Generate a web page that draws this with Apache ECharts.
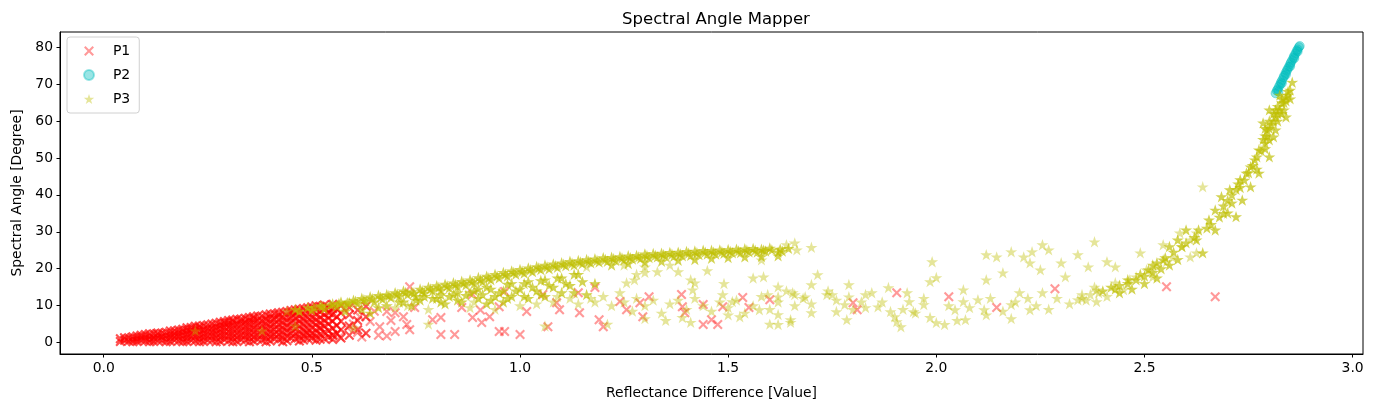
<!DOCTYPE html>
<html>
<head>
<meta charset="utf-8">
<title>Spectral Angle Mapper</title>
<script src="https://cdn.jsdelivr.net/npm/echarts@6/dist/echarts.min.js"></script>
<style>
  html, body { margin: 0; padding: 0; background: #fff; }
  #chart { width: 1378px; height: 412px; }
</style>
</head>
<body>
<div id="chart"></div>
<script>
// P1 : red crosses, dense wedge near the origin
const p1Wedge = [
  [0.04,0.3],[0.04,1.0],[0.06,0.4],[0.06,1.3],[0.08,0.3],[0.08,1.0],[0.08,1.8],
  [0.10,0.5],[0.10,1.4],[0.10,2.2],[0.12,0.3],[0.12,1.2],[0.12,2.4],
  [0.14,0.6],[0.14,1.6],[0.14,2.6],[0.16,0.3],[0.16,1.3],[0.16,2.3],[0.16,3.1],
  [0.18,0.5],[0.18,1.6],[0.18,2.6],[0.18,3.4],[0.20,0.3],[0.20,1.2],[0.20,2.3],[0.20,3.3],[0.20,4.0],
  [0.22,0.5],[0.22,1.6],[0.22,2.7],[0.22,3.7],[0.22,4.4],[0.24,0.3],[0.24,1.3],[0.24,2.4],[0.24,3.5],[0.24,4.6],
  [0.26,0.6],[0.26,1.7],[0.26,2.8],[0.26,3.9],[0.26,5.0],[0.28,0.3],[0.28,1.4],[0.28,2.5],[0.28,3.6],[0.28,4.7],[0.28,5.5],
  [0.30,0.5],[0.30,1.7],[0.30,2.9],[0.30,4.1],[0.30,5.2],[0.30,6.0],
  [0.32,0.3],[0.32,1.4],[0.32,2.6],[0.32,3.8],[0.32,5.0],[0.32,6.3],
  [0.34,0.6],[0.34,1.8],[0.34,3.0],[0.34,4.3],[0.34,5.5],[0.34,6.6],
  [0.36,0.4],[0.36,1.5],[0.36,2.8],[0.36,4.0],[0.36,5.3],[0.36,6.5],[0.36,7.0],
  [0.38,0.7],[0.38,1.9],[0.38,3.2],[0.38,4.5],[0.38,5.8],[0.38,7.2],
  [0.40,0.4],[0.40,1.6],[0.40,2.9],[0.40,4.2],[0.40,5.5],[0.40,6.8],[0.40,7.7],
  [0.42,0.8],[0.42,2.1],[0.42,3.4],[0.42,4.8],[0.42,6.1],[0.42,7.4],[0.42,8.1],
  [0.44,0.5],[0.44,1.8],[0.44,3.1],[0.44,4.5],[0.44,5.9],[0.44,7.2],[0.44,8.4],
  [0.46,1.0],[0.46,2.3],[0.46,3.7],[0.46,5.1],[0.46,6.5],[0.46,7.8],[0.46,8.9],
  [0.48,0.7],[0.48,2.0],[0.48,3.4],[0.48,4.9],[0.48,6.3],[0.48,7.7],[0.48,9.2],
  [0.50,1.2],[0.50,2.6],[0.50,4.1],[0.50,5.6],[0.50,7.0],[0.50,8.5],[0.50,9.6],
  [0.52,0.9],[0.52,2.3],[0.52,3.8],[0.52,5.3],[0.52,6.8],[0.52,8.3],[0.52,9.8],
  [0.54,1.5],[0.54,3.2],[0.54,5.0],[0.54,6.6],[0.54,8.1],[0.54,9.5],
  [0.56,2.5],[0.56,4.6],[0.56,7.0],[0.56,9.0],
  [0.05,0.6],[0.05,1.3],[0.07,0.2],[0.07,0.9],[0.07,1.6],[0.09,0.6],[0.09,1.4],[0.09,2.0],
  [0.11,0.2],[0.11,0.9],[0.11,1.7],[0.11,2.4],[0.13,0.5],[0.13,1.3],[0.13,2.1],[0.13,2.6],
  [0.15,0.2],[0.15,1.0],[0.15,1.9],[0.15,2.8],[0.17,0.6],[0.17,1.5],[0.17,2.4],[0.17,3.2],
  [0.19,0.2],[0.19,1.0],[0.19,2.0],[0.19,2.9],[0.19,3.6],[0.21,0.6],[0.21,1.6],[0.21,2.6],[0.21,3.5],[0.21,4.1],
  [0.23,0.2],[0.23,1.1],[0.23,2.1],[0.23,3.1],[0.23,4.0],[0.23,4.5],[0.25,0.7],[0.25,1.8],[0.25,2.9],[0.25,3.9],[0.25,4.8],
  [0.27,0.2],[0.27,1.2],[0.27,2.3],[0.27,3.3],[0.27,4.3],[0.27,5.2],[0.29,0.8],[0.29,2.0],[0.29,3.1],[0.29,4.2],[0.29,5.2],[0.29,5.7],
  [0.31,0.2],[0.31,1.2],[0.31,2.3],[0.31,3.5],[0.31,4.6],[0.31,5.6],[0.31,6.1],
  [0.33,0.8],[0.33,2.1],[0.33,3.3],[0.33,4.6],[0.33,5.8],[0.33,6.4],
  [0.35,0.2],[0.35,1.3],[0.35,2.5],[0.35,3.6],[0.35,4.8],[0.35,6.0],[0.35,6.8],
  [0.37,0.9],[0.37,2.2],[0.37,3.5],[0.37,4.8],[0.37,6.1],[0.37,7.2],
  [0.39,0.2],[0.39,1.3],[0.39,2.5],[0.39,3.8],[0.39,5.1],[0.39,6.4],[0.39,7.5],
  [0.41,1.0],[0.41,2.3],[0.41,3.6],[0.41,5.0],[0.41,6.4],[0.41,7.8],
  [0.43,0.2],[0.43,1.4],[0.43,2.8],[0.43,4.1],[0.43,5.4],[0.43,6.8],[0.43,8.2],
  [0.45,1.2],[0.45,2.6],[0.45,4.0],[0.45,5.4],[0.45,6.8],[0.45,8.1],[0.45,8.7],
  [0.47,0.4],[0.47,1.6],[0.47,3.0],[0.47,4.4],[0.47,5.8],[0.47,7.2],[0.47,8.5],[0.47,9.0],
  [0.49,1.1],[0.49,2.4],[0.49,3.8],[0.49,5.3],[0.49,6.7],[0.49,8.1],[0.49,9.4],
  [0.51,0.6],[0.51,1.8],[0.51,3.3],[0.51,4.8],[0.51,6.2],[0.51,7.6],[0.51,9.0],[0.51,10.0],
  [0.53,1.1],[0.53,2.8],[0.53,4.4],[0.53,6.0],[0.53,7.5],[0.53,9.0],[0.53,10.2],
  [0.55,0.8],[0.55,2.0],[0.55,3.9],[0.55,5.8],[0.55,7.6],[0.55,9.2],[0.55,10.4],
  [0.57,1.2],[0.57,3.5],[0.57,5.8],[0.57,8.0],[0.57,10.0],[0.59,2.0],[0.59,4.5],[0.59,7.5],[0.59,9.5],
  [0.61,3.5],[0.61,6.0],[0.61,8.8],[0.63,2.5],[0.63,7.0],[0.63,9.8]
];

// P1 : red crosses, scattered points
const p1Scattered = [
  [0.487,2.7],[0.50,1.6],[0.52,4.1],[0.543,8.1],[0.55,2.2],[0.567,1.6],
  [0.585,4.1],[0.61,2.7],[0.615,7.0],[0.64,5.7],[0.663,4.3],[0.68,8.4],[0.70,8.1],
  [0.70,3.0],[0.728,4.9],[0.735,3.5],[0.735,15.1],[0.747,9.5],[0.79,6.2],[0.81,6.8],
  [0.81,2.2],[0.843,2.2],[0.86,9.5],[0.886,6.8],[0.886,13.0],[0.908,5.4],[0.927,7.0],
  [0.95,3.0],[0.963,3.0],[0.95,9.7],[0.963,13.8],[1.0,2.2],[1.016,8.4],[1.055,13.0],
  [1.067,4.3],[1.088,10.8],[1.095,8.9],[1.14,13.5],[1.143,8.1],[1.18,14.9],[1.19,6.2],
  [1.20,4.3],[1.24,11.1],[1.256,8.9],[1.288,10.8],[1.295,7.0],[1.31,12.4],[1.388,13.0],
  [1.39,9.7],[1.396,8.1],[1.44,10.3],[1.44,4.9],[1.46,6.2],[1.475,4.9],[1.487,9.7],
  [1.535,12.2],[1.55,9.5],[1.60,11.6],[1.80,10.8],[1.81,8.9],[1.905,13.5],[2.03,12.4],
  [2.145,9.5],[2.285,14.6],[2.553,15.1],[2.67,12.4],
  [0.60,5.0],[0.62,1.5],[0.66,2.0],[0.69,6.0],[0.72,7.0],[0.905,8.8],[0.68,1.8],[0.65,8.5]
];

// P2 : cyan circles, thin rising streak at the upper right
const p2Points = [
  [2.815,67.5],[2.818,68.2],[2.820,68.6],[2.823,69.3],[2.826,69.9],[2.828,70.5],
  [2.831,71.1],[2.834,71.8],[2.836,72.3],[2.839,73.0],[2.842,73.6],[2.844,74.1],
  [2.847,74.7],[2.850,75.4],[2.852,75.9],[2.855,76.5],[2.858,77.2],[2.860,77.7],
  [2.863,78.3],[2.866,79.0],[2.868,79.4],[2.871,80.0],[2.873,80.3],
  [2.822,68.0],[2.830,70.2],[2.840,72.6],[2.850,74.8],[2.860,77.0],[2.868,78.8]
];

// P3 : olive stars, dense upper band, dense fill below it and the steep rise
const p3Dense = [
  [0.46,9.0],[0.47,8.5],[0.49,9.5],[0.50,8.8],
  [0.52,10.0],[0.53,9.2],[0.55,10.5],[0.56,9.8],[0.57,11.0],[0.58,10.2],[0.59,10.8],[0.60,11.5],
  [0.61,10.6],[0.62,12.0],[0.63,11.2],[0.64,12.4],[0.65,11.0],[0.66,12.8],[0.67,11.8],[0.68,13.0],
  [0.69,12.2],[0.70,13.5],[0.71,12.6],[0.72,14.0],[0.73,13.0],[0.74,13.8],[0.75,12.5],[0.76,14.5],
  [0.77,13.4],[0.78,15.0],[0.79,14.0],[0.80,15.4],[0.81,14.2],[0.82,15.8],[0.83,14.8],[0.84,16.2],
  [0.85,15.2],[0.86,16.6],[0.87,15.6],[0.88,17.0],[0.89,16.0],[0.90,17.6],[0.91,16.5],[0.92,18.0],
  [0.93,17.0],[0.94,18.5],[0.95,17.5],[0.96,19.0],[0.97,18.0],[0.98,19.4],[0.99,18.5],[1.00,19.8],
  [1.01,18.8],[1.02,20.2],[1.03,19.2],[1.04,20.6],[1.05,19.8],[1.06,21.0],[1.07,20.0],[1.08,21.3],
  [1.09,20.4],[1.10,21.6],[1.11,20.8],[1.12,22.0],[1.13,21.0],[1.14,22.2],[1.15,21.4],[1.16,22.5],
  [1.17,21.6],[1.18,22.7],[1.19,21.8],[1.20,23.0],[1.21,22.0],[1.22,23.1],[1.23,22.2],[1.24,23.3],
  [1.25,22.4],[1.26,23.5],[1.27,22.6],[1.28,23.6],[1.29,22.8],[1.30,24.0],[1.31,23.0],[1.32,24.1],
  [1.33,23.2],[1.34,24.2],[1.35,23.3],[1.36,24.4],[1.37,23.4],[1.38,24.5],[1.39,23.5],[1.40,24.7],
  [1.41,23.6],[1.42,24.8],[1.43,23.8],[1.44,25.0],[1.45,24.0],[1.46,25.0],[1.47,24.0],[1.48,25.1],
  [1.49,24.2],[1.50,25.2],[1.51,24.3],[1.52,25.3],[1.53,24.4],[1.54,25.4],[1.55,24.6],[1.56,25.5],
  [1.57,24.5],[1.58,25.3],[1.59,24.8],[1.60,25.6],[1.62,24.5],[1.63,24.8],
  [0.505,9.5],[0.525,9.8],[0.545,10.2],[0.565,10.6],[0.585,10.8],[0.605,11.2],[0.625,11.6],[0.645,11.9],
  [0.665,12.3],[0.685,12.7],[0.705,13.1],[0.725,13.6],[0.745,13.4],[0.765,14.0],[0.785,14.5],[0.805,14.9],
  [0.825,15.3],[0.845,15.7],[0.865,16.1],[0.885,16.5],[0.905,17.0],[0.925,17.5],[0.945,18.0],[0.965,18.5],
  [0.985,19.0],[1.005,19.3],[1.025,19.7],[1.045,20.2],[1.065,20.5],[1.085,20.8],[1.105,21.2],[1.125,21.5],
  [1.145,21.8],[1.165,22.0],[1.185,22.2],[1.205,22.5],[1.225,22.7],[1.245,22.9],[1.265,23.0],[1.285,23.2],
  [1.305,23.5],[1.325,23.6],[1.345,23.8],[1.365,23.9],[1.385,24.0],[1.405,24.2],[1.425,24.3],[1.445,24.5],
  [1.465,24.5],[1.485,24.6],[1.505,24.7],[1.525,24.8],[1.545,25.0],[1.565,25.0],[1.585,25.0],[1.605,25.1],
  [1.625,25.3],[1.645,25.5],
  [1.22,21.0],[1.26,21.4],[1.30,21.8],[1.34,22.0],[1.38,22.3],[1.42,22.5],[1.46,22.8],[1.50,23.0],
  [1.54,23.2],[1.58,23.3],[1.62,23.5],
  [0.58,8.5],[0.62,9.0],[0.64,8.0],[0.66,9.5],[0.68,10.0],
  [0.72,11.0],[0.74,10.0],[0.76,11.5],[0.80,12.0],[0.82,10.5],[0.84,13.0],
  [0.86,11.0],[0.88,13.5],[0.90,12.0],[0.90,14.5],[0.92,10.5],[0.92,15.0],[0.94,12.5],
  [0.96,14.0],[0.96,11.0],[0.98,16.0],[0.98,12.5],[1.00,14.5],[1.02,12.0],
  [1.02,16.5],[1.04,14.0],[1.06,12.5],[1.06,17.0],[1.08,15.0],[1.10,13.5],
  [1.10,17.5],[1.12,15.5],[1.14,18.5],[1.16,13.0],[1.18,16.0],
  [0.71,11.0],[0.75,11.5],[0.79,12.0],[0.81,11.0],[0.83,12.5],[0.85,11.5],
  [0.87,12.8],[0.91,13.0],[0.93,11.5],[0.95,13.5],[0.97,12.0],[0.99,14.0],[1.01,12.5],
  [1.03,15.0],[1.05,13.0],[1.07,15.5],[1.11,16.0],[1.13,13.5],[1.15,16.5],
  [0.93,14.5],[0.97,15.8],[1.01,16.0],[1.05,16.8],[1.09,17.5],[1.13,18.5],[0.89,14.0],[0.85,13.5],
  [0.81,13.0],[0.77,12.5],
  [2.40,14.0],[2.42,15.0],[2.44,15.5],[2.46,16.0],[2.48,17.0],[2.50,18.0],[2.52,19.0],[2.54,20.0],
  [2.56,21.0],[2.58,22.5],[2.44,13.5],[2.47,14.5],[2.50,16.0],[2.53,17.5],
  [2.51,19.7],[2.545,22.4],[2.56,26.0],[2.59,26.0],[2.60,30.5],[2.625,27.8],[2.63,30.5],
  [2.655,33.2],[2.67,35.9],[2.685,39.5],[2.705,41.4],[2.71,37.8],[2.73,44.1],[2.735,38.6],[2.745,45.9],
  [2.755,47.6],[2.77,50.3],[2.775,45.9],[2.79,54.0],[2.795,57.6],[2.80,50.3],[2.785,59.5],[2.81,55.7],
  [2.815,61.1],[2.825,63.0],[2.83,64.9],[2.84,66.5],[2.85,68.4],[2.855,70.5],[2.84,61.1],[2.815,57.6],
  [2.80,54.9],[2.775,52.2],[2.755,42.2],[2.72,34.1],[2.70,35.1],[2.67,30.5],[2.64,24.3],
  [2.53,21.6],[2.58,27.8],
  [2.79,58.0],[2.80,60.0],[2.81,62.0],[2.82,64.0],[2.83,66.0],[2.845,68.0],[2.80,63.0],[2.82,60.0],
  [2.835,63.0],[2.79,56.0],[2.825,67.0],[2.84,65.5],[2.85,66.0],
  [2.66,32.0],[2.68,34.0],[2.69,37.0],[2.70,38.5],[2.71,40.0],[2.72,41.5],[2.725,43.0],[2.74,44.0],
  [2.75,46.0],[2.76,48.0],[2.765,49.5],[2.78,52.0],[2.785,55.0],[2.795,56.0],[2.80,58.0],[2.805,59.0],
  [2.81,60.0],[2.815,63.0],[2.82,62.0],[2.83,62.0],[2.835,65.0],[2.845,67.0],[2.79,52.5],[2.77,47.0],
  [2.73,42.0],[2.69,35.0],[2.65,31.0],[2.62,28.5],[2.60,27.0],[2.57,24.5],[2.55,23.0],[2.52,21.0],
  [2.49,18.5],[2.46,17.0],[2.43,14.5]
];

// P3 : olive stars, scattered points
const p3Scattered = [
  [0.22,3.2],[0.38,3.2],[0.44,8.5],[0.46,4.5],[1.64,26.5],[1.66,27.0],[1.70,25.8],[1.665,25.1],
  [0.70,9.5],[0.78,9.0],[0.88,9.5],[0.94,9.0],[1.00,10.0],[1.04,10.5],[1.08,11.0],[1.12,12.0],
  [1.14,10.5],[1.18,11.0],[0.73,10.0],[0.89,11.0],[1.09,12.5],[1.17,12.0],
  [1.20,12.5],[1.22,10.0],[1.24,13.5],[1.25,11.0],[1.27,8.5],[1.28,12.0],[1.30,10.0],[1.32,11.5],
  [1.34,8.0],[1.36,10.5],[1.38,11.5],[1.40,9.0],[1.42,12.0],[1.44,10.0],[1.46,8.5],[1.48,11.0],
  [1.50,9.5],[1.52,11.5],[1.54,8.0],[1.56,10.0],[1.58,12.5],[1.60,9.0],[1.62,11.0],[1.64,14.0],
  [1.66,10.0],[1.68,12.0],[1.70,10.5],[0.60,4.0],[0.78,5.0],[1.06,4.5],[1.21,5.0],[1.30,6.5],
  [1.35,6.0],[1.41,5.5],[1.50,7.5],[1.60,5.0],[1.65,5.5],[1.66,13.0],
  [1.41,17.0],[1.45,19.5],[1.36,21.0],[1.56,17.5],[1.30,19.0],[1.28,18.5],[1.49,16.0],[1.16,20.5],
  [1.25,21.0],[1.30,20.5],[1.33,19.2],[1.38,19.2],[1.275,17.0],[1.256,16.2],[1.585,17.8],
  [1.58,22.4],[1.715,18.4],[1.70,15.7],[1.62,15.1],[1.655,13.5],[1.62,12.4],[1.685,12.4],
  [1.62,7.6],[1.65,6.2],[1.62,4.9],[1.70,8.1],[1.785,6.2],[1.737,13.0],[1.79,15.7],[1.845,13.5],
  [1.83,9.5],[1.42,16.2],[1.415,14.3],[1.487,13.0],[1.51,11.1],[1.528,7.0],[1.575,8.9],[1.595,13.0],
  [1.39,6.8],
  [1.75,13.0],[1.79,12.4],[1.78,10.3],[1.76,8.4],[1.83,13.0],[1.86,9.7],[1.885,14.9],[1.89,8.4],
  [1.905,5.7],[1.915,4.3],[1.935,11.1],[1.945,8.4],[1.97,10.3],[1.985,16.5],[1.99,21.9],[2.0,17.6],
  [1.985,6.8],[2.0,5.4],[2.02,4.9],[2.045,8.9],[2.065,14.3],[2.07,6.2],[2.065,11.1],[2.10,11.6],
  [2.115,8.9],[2.12,17.0],[2.12,23.8],[2.145,23.2],[2.16,18.9],[2.18,24.6],[2.18,10.3],[2.20,13.5],
  [2.21,23.2],[2.225,21.6],[2.23,24.6],[2.25,19.7],[2.255,26.5],[2.27,25.1],[2.255,13.5],[2.225,8.9],
  [2.30,21.6],[2.31,17.8],[2.34,11.6],[2.35,13.0],[2.34,23.8],[2.365,20.5],[2.38,27.3],[2.385,14.3],
  [2.385,11.1],[2.41,21.9],[2.43,20.5],[2.43,16.2],[2.45,14.3],[2.465,17.0],[2.48,17.8],[2.49,24.3],
  [2.505,19.7],[2.53,20.5],[2.545,26.5],[2.553,21.9],[2.568,23.0],[2.59,26.0],[2.61,27.8],[2.625,24.3],
  [2.625,29.7],[2.585,29.7],[2.64,42.2],[2.61,23.2],[2.52,17.8],
  [1.80,9.0],[1.82,11.0],[1.87,11.0],[1.92,9.0],[1.95,8.0],[1.97,12.0],[2.03,10.0],[2.08,9.5],
  [2.13,12.0],[2.16,8.5],[2.19,11.0],[2.22,12.0],[2.24,10.0],[2.27,9.0],[2.29,12.0],[2.32,10.5],
  [2.36,11.5],[2.18,6.5],[2.05,6.0],[2.12,7.5],[1.90,7.0],[1.93,13.5],[1.74,14.0],[1.76,11.5],
  [2.35,12.0],[2.37,13.0],[2.38,15.0],[2.41,12.5],[2.39,13.5]
];

const xTicks = [0, 0.5, 1.0, 1.5, 2.0, 2.5, 3.0];
const yTicks = [0, 10, 20, 30, 40, 50, 60, 70, 80];

const crossPath = 'path://M1.5,0 L5,3.5 L8.5,0 L10,1.5 L6.5,5 L10,8.5 L8.5,10 L5,6.5 L1.5,10 L0,8.5 L3.5,5 L0,1.5 Z';
const starPath = 'path://M50,0 L61.17,34.63 L97.55,34.55 L68.07,55.87 L79.39,90.45 L50,69 L20.61,90.45 L31.93,55.87 L2.45,34.55 L38.83,34.63 Z';

const FONT = 'DejaVu Sans';
const RED = 'rgba(255,0,0,0.5)';
const RED_DENSE = 'rgba(255,0,0,0.85)';
const CYAN = 'rgba(0,191,191,0.5)';
const OLIVE = 'rgba(191,191,0,0.5)';
const OLIVE_DENSE = 'rgba(191,191,0,0.85)';

// the dense clusters hold many overlapping marks in the original; a stronger
// alpha on their hand-read subset gives the same saturated look
function crossSeries(data, color) {
  return {
    name: 'P1', type: 'scatter', data,
    symbol: crossPath, symbolSize: 10, symbolKeepAspect: true,
    itemStyle: { color }
  };
}
function starSeries(data, color) {
  return {
    name: 'P3', type: 'scatter', data,
    symbol: starPath, symbolSize: 12, symbolKeepAspect: true,
    itemStyle: { color }
  };
}

const chart = echarts.init(document.getElementById('chart'), null, { renderer: 'canvas' });

chart.setOption({
  animation: false,
  backgroundColor: '#ffffff',
  textStyle: { fontFamily: FONT },
  title: {
    text: 'Spectral Angle Mapper',
    left: 711, top: 6,
    textAlign: 'center',
    textStyle: { fontFamily: FONT, fontSize: 16.5, fontWeight: 'normal', color: '#000' }
  },
  grid: {
    left: 60, right: 15, top: 32, bottom: 58,
    show: true, borderColor: '#000', borderWidth: 1, backgroundColor: 'transparent'
  },
  legend: {
    orient: 'vertical',
    left: 67, top: 37,
    padding: [6, 9, 6, 16],
    itemWidth: 20, itemHeight: 10, itemGap: 8,
    backgroundColor: 'rgba(255,255,255,0.8)',
    borderColor: '#d0d0d0', borderWidth: 1, borderRadius: 3,
    formatter: name => '  ' + name,
    textStyle: { fontFamily: FONT, fontSize: 14, color: '#000', lineHeight: 16 },
    data: ['P1', 'P2', 'P3']
  },
  xAxis: {
    type: 'value',
    min: -0.105, max: 3.025,
    minInterval: 0.5, maxInterval: 0.5,
    name: 'Reflectance Difference [Value]',
    nameLocation: 'middle', nameGap: 32,
    nameTextStyle: { fontFamily: FONT, fontSize: 13.9, color: '#000' },
    axisLine: { show: true, onZero: false, lineStyle: { color: '#000', width: 1 } },
    axisTick: { show: true, length: 3.5, lineStyle: { color: '#000' }, customValues: xTicks },
    axisLabel: {
      margin: 7, color: '#000', fontFamily: FONT, fontSize: 13.9,
      customValues: xTicks,
      formatter: v => v.toFixed(1)
    },
    splitLine: { show: false }
  },
  yAxis: {
    type: 'value',
    min: -3.1, max: 84.1,
    minInterval: 10, maxInterval: 10,
    name: 'Spectral Angle [Degree]',
    nameLocation: 'middle', nameGap: 36,
    nameTextStyle: { fontFamily: FONT, fontSize: 13.9, color: '#000' },
    axisLine: { show: true, onZero: false, lineStyle: { color: '#000', width: 1 } },
    axisTick: { show: true, length: 3.5, lineStyle: { color: '#000' }, customValues: yTicks },
    axisLabel: {
      margin: 7, color: '#000', fontFamily: FONT, fontSize: 13.9,
      customValues: yTicks
    },
    splitLine: { show: false }
  },
  series: [
    crossSeries(p1Scattered, RED),
    crossSeries(p1Wedge, RED_DENSE),
    {
      name: 'P2', type: 'scatter', data: p2Points,
      symbol: 'circle', symbolSize: 9,
      itemStyle: { color: CYAN, borderColor: CYAN, borderWidth: 1 }
    },
    starSeries(p3Scattered, OLIVE),
    starSeries(p3Dense, OLIVE_DENSE)
  ]
});
</script>
</body>
</html>
